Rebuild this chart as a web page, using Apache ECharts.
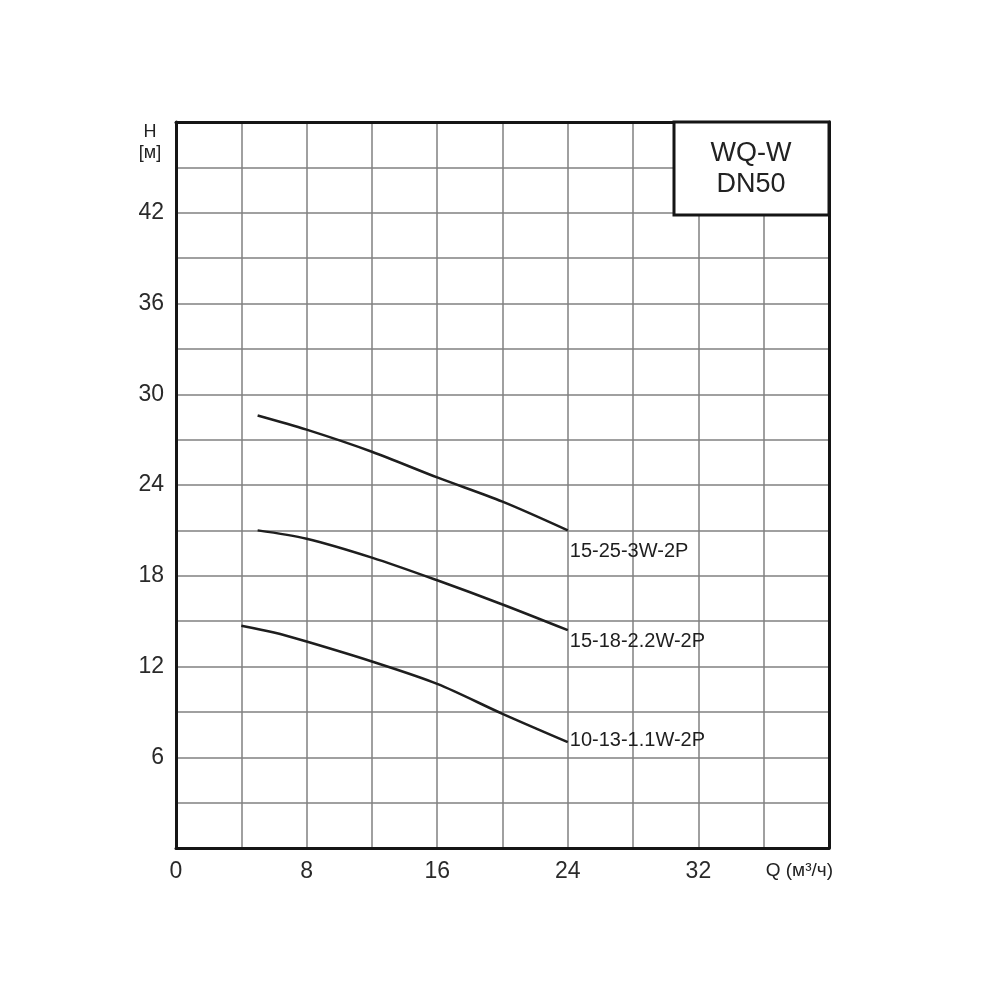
<!DOCTYPE html>
<html>
<head>
<meta charset="utf-8">
<script src="https://cdn.jsdelivr.net/npm/echarts@6/dist/echarts.min.js"></script>
<style>html,body{margin:0;padding:0;background:#fff}#c{width:1000px;height:1000px}</style>
</head>
<body>
<div id="c"></div>
<script>
const seriesNames = ['15-25-3W-2P', '15-18-2.2W-2P', '10-13-1.1W-2P'];
const curve1 = [[5, 28.6], [8, 27.66], [12, 26.2], [16, 24.5], [20, 22.9], [24, 21.0]];
const curve2 = [[5, 21.0], [8, 20.45], [12, 19.2], [16, 17.7], [20, 16.1], [24, 14.4]];
const curve3 = [[4, 14.7], [6, 14.25], [8, 13.65], [12, 12.33], [16, 10.85], [20, 8.87], [24, 7.0]];
const xTickLabels = [0, 8, 16, 24, 32];
const yTickLabels = [6, 12, 18, 24, 30, 36, 42];
const xAxisTitle = 'Q (м³/ч)';
const yAxisTitle = 'H\n[м]';
const boxTitle = 'WQ-W\nDN50';

const labelOffsets = [[2, 21], [2, 11], [2, -2]];
const curves = [curve1, curve2, curve3];
const FONT = '"Liberation Sans", Arial, sans-serif';
const frameLine = {show: true, onZero: false, lineStyle: {color: '#151515', width: 3}};

const chart = echarts.init(document.getElementById('c'), null, {renderer: 'canvas'});
chart.setOption({
  animation: false,
  backgroundColor: '#fff',
  grid: {left: 176, right: 171, top: 122, bottom: 152, show: false},
  xAxis: [{
    type: 'value', min: 0, max: 40, interval: 4, position: 'bottom',
    axisLine: frameLine, axisTick: {show: false},
    splitLine: {show: true, lineStyle: {color: '#808080', width: 1.5}},
    axisLabel: {
      fontSize: 23, color: '#2a2a2a', fontFamily: FONT, margin: 12,
      formatter: v => xTickLabels.includes(v) ? String(v) : ''
    }
  }, {
    type: 'value', min: 0, max: 40, interval: 4, position: 'top',
    axisLine: frameLine, axisTick: {show: false}, axisLabel: {show: false}, splitLine: {show: false}
  }],
  yAxis: [{
    type: 'value', min: 0, max: 48, interval: 3, position: 'left',
    axisLine: frameLine, axisTick: {show: false},
    splitLine: {show: true, lineStyle: {color: '#808080', width: 1.5}},
    axisLabel: {
      fontSize: 23, color: '#2a2a2a', fontFamily: FONT, margin: 12,
      formatter: v => yTickLabels.includes(v) ? String(v) : ''
    }
  }, {
    type: 'value', min: 0, max: 48, interval: 3, position: 'right',
    axisLine: frameLine, axisTick: {show: false}, axisLabel: {show: false}, splitLine: {show: false}
  }],
  series: curves.map((d, i) => ({
    name: seriesNames[i],
    type: 'line',
    data: d,
    smooth: 0.3,
    symbol: 'none',
    lineStyle: {color: '#1e1e1e', width: 2.5},
    endLabel: {
      show: true, formatter: seriesNames[i], fontSize: 20, color: '#1e1e1e',
      fontFamily: FONT, distance: 0, offset: labelOffsets[i]
    },
    z: 3
  })),
  graphic: [
    {type: 'rect', z: 100, shape: {x: 674, y: 122, width: 155, height: 93},
     style: {fill: '#fff', stroke: '#151515', lineWidth: 3}},
    {type: 'text', z: 101, style: {text: boxTitle, x: 751, y: 169, align: 'center', verticalAlign: 'middle',
      font: '27px ' + FONT, lineHeight: 31, fill: '#222'}},
    {type: 'text', z: 101, style: {text: yAxisTitle, x: 150, y: 143, align: 'center', verticalAlign: 'middle',
      font: '18px ' + FONT, lineHeight: 21, fill: '#222'}},
    {type: 'text', z: 101, style: {text: xAxisTitle, x: 833, y: 871, align: 'right', verticalAlign: 'middle',
      font: '19px ' + FONT, fill: '#222'}}
  ]
});
</script>
</body>
</html>
